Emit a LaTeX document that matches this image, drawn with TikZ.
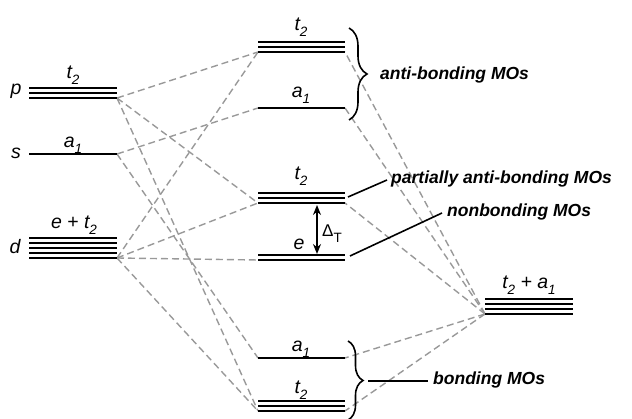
\documentclass[tikz,border=0pt]{standalone}
\usepackage{fontspec}
\setmainfont{Liberation Sans}
\usetikzlibrary{decorations.pathreplacing,arrows.meta}

% subscript for orbital symmetry labels
\newcommand\lsub[1]{\raisebox{-0.3em}{\fontsize{13.5}{13.5}\selectfont #1}}

\begin{document}
\begin{tikzpicture}[x=1pt,y=-1pt,
  level/.style={line width=1.9pt},
  mix/.style={draw=black!40, line width=1.4pt, dash pattern=on 7pt off 4pt},
  lbl/.style={font=\fontsize{19.5}{19.5}\selectfont\itshape, inner sep=0pt, anchor=base},
  tag/.style={font=\fontsize{17.5}{18}\selectfont\bfseries\itshape, inner sep=0pt, anchor=base west},
  lead/.style={line width=1.6pt},
  grp/.style={decorate, decoration={brace, amplitude=#1}, line width=1.6pt}]

\useasboundingbox (0,0) rectangle (632,419);

% --- connection points on the energy levels ---
% metal atomic orbitals (left)
\coordinate (pR) at (117,98);
\coordinate (sR) at (117,154);
\coordinate (dR) at (117,258);
% molecular orbitals (middle)
\coordinate (at2L) at (258,52);   \coordinate (at2R) at (345,52);
\coordinate (aa1L) at (258,108);  \coordinate (aa1R) at (345,108);
\coordinate (pt2L) at (258,203);  \coordinate (pt2R) at (345,203);
\coordinate (neL)  at (258,260);
\coordinate (ba1L) at (258,358);  \coordinate (ba1R) at (345,358);
\coordinate (bt2L) at (258,411);  \coordinate (bt2R) at (345,411);
% ligand group orbitals (right)
\coordinate (lig) at (485,314);

% --- correlation lines ---
\draw[mix] (pR) -- (at2L);
\draw[mix] (pR) -- (pt2L);
\draw[mix] (pR) -- (bt2L);
\draw[mix] (sR) -- (aa1L);
\draw[mix] (sR) -- (ba1L);
\draw[mix] (dR) -- (at2L);
\draw[mix] (dR) -- (pt2L);
\draw[mix] (dR) -- (neL);
\draw[mix] (dR) -- (bt2L);
\draw[mix] (lig) -- (at2R);
\draw[mix] (lig) -- (aa1R);
\draw[mix] (lig) -- (pt2R);
\draw[mix] (lig) -- (ba1R);
\draw[mix] (lig) -- (bt2R);

% --- energy levels ---
\foreach \y in {88,93,98} \draw[level] (29,\y) -- (117,\y);
\draw[level] (29,154) -- (117,154);
\foreach \y in {238,243,248,253,258} \draw[level] (29,\y) -- (117,\y);

\foreach \y in {42,47,52} \draw[level] (258,\y) -- (345,\y);
\draw[level] (258,108) -- (345,108);
\foreach \y in {193,198,203} \draw[level] (258,\y) -- (345,\y);
\foreach \y in {255,260} \draw[level] (258,\y) -- (345,\y);
\draw[level] (258,358) -- (345,358);
\foreach \y in {401,406,411} \draw[level] (258,\y) -- (345,\y);

\foreach \y in {299,304,309,314} \draw[level] (485,\y) -- (573,\y);

% --- level labels ---
\node[lbl] (lp) at (16,95) {p};
\node[lbl] (ls) at (16,159) {s};
\node[lbl] (ld) at (15,254) {d};
\node[lbl] (lpt) at (73,79) {t\lsub{2}};
\node[lbl] (lsa) at (73,148) {a\lsub{1}};
\node[lbl] (ldt) at (74,229) {e + t\lsub{2}};

\node[lbl] (mat) at (301,31) {t\lsub{2}};
\node[lbl] (maa) at (301,98) {a\lsub{1}};
\node[lbl] (mpt) at (301,180) {t\lsub{2}};
\node[lbl] (mne) at (299,250) {e};
\node[lbl] (mba) at (301,352) {a\lsub{1}};
\node[lbl] (mbt) at (301,394) {t\lsub{2}};

\node[lbl] (rl) at (529,289) {t\lsub{2} + a\lsub{1}};

% --- ligand field splitting ---
\coordinate (dtop) at (317,205);
\coordinate (dbot) at (317,254);
\draw[line width=1.6pt, {Stealth[length=10pt,width=8pt]}-{Stealth[length=10pt,width=8pt]}] (dtop) -- (dbot);
\node[font=\fontsize{17}{17}\selectfont, inner sep=0pt, anchor=base west] (dT) at (322,237) {Δ\lsub{T}};

% --- group braces and tags ---
\coordinate (b1t) at (349,28);  \coordinate (b1b) at (349,120);
\coordinate (b2t) at (348,341); \coordinate (b2b) at (348,420);
\draw[grp=18pt] (b1t) -- (b1b);
\draw[grp=15pt] (b2t) -- (b2b);

\node[tag] (tanti) at (380,80) {anti-bonding MOs};
\node[tag] (tpart) at (391,184) {partially anti-bonding MOs};
\node[tag] (tnon) at (447,217) {nonbonding MOs};
\node[tag] (tbond) at (433,385) {bonding MOs};

\coordinate (l1a) at (348,197); \coordinate (l1b) at (387,180);
\coordinate (l2a) at (350,256); \coordinate (l2b) at (442,213);
\coordinate (l3a) at (368,381); \coordinate (l3b) at (428,381);
\draw[lead] (l1a) -- (l1b);
\draw[lead] (l2a) -- (l2b);
\draw[lead] (l3a) -- (l3b);
\end{tikzpicture}
\end{document}
